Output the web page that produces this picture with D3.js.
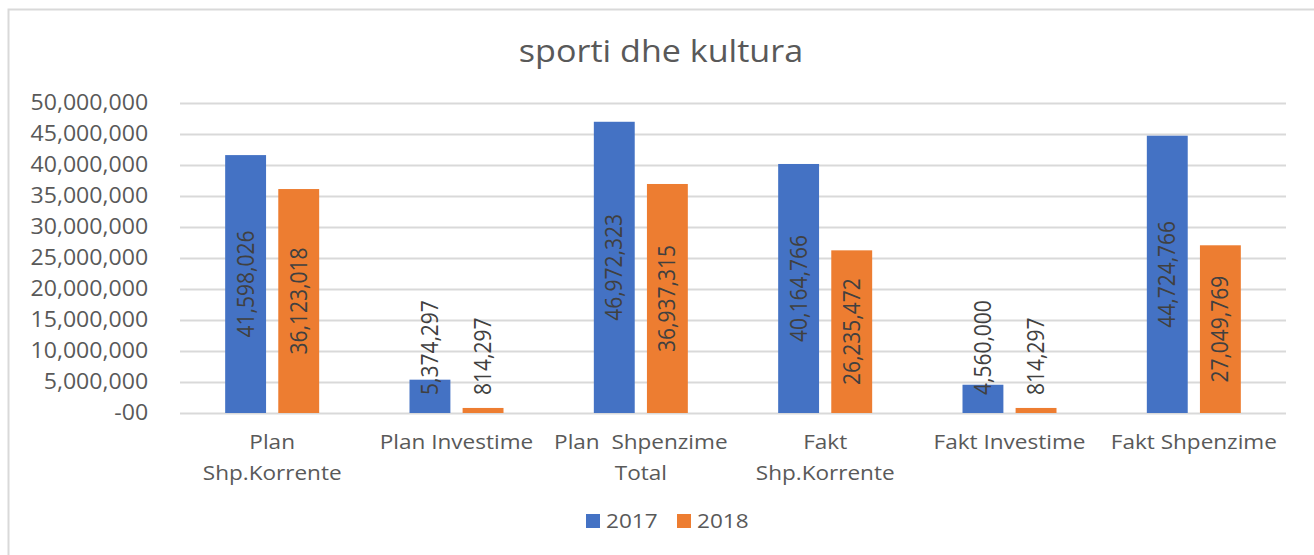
<!DOCTYPE html>
<html>
<head>
<style>
body{
    margin: 0;
    background: #fff;
}
svg text{
    font-family: "Open Sans", "Noto Sans", sans-serif;
}
</style>
</head>
<body>
<svg id="chart"></svg>

<script src="https://cdn.jsdelivr.net/npm/d3@7"></script>
<script>
var categories = [["Plan", "Shp.Korrente"], ["Plan Investime"], ["Plan  Shpenzime", "Total"],
                  ["Fakt", "Shp.Korrente"], ["Fakt Investime"], ["Fakt Shpenzime"]];
var years = ["2017", "2018"];
var values2017 = [41598026, 5374297, 46972323, 40164766, 4560000, 44724766];
var values2018 = [36123018, 814297, 36937315, 26235472, 814297, 27049769];
var yTicks = [0, 5000000, 10000000, 15000000, 20000000, 25000000, 30000000, 35000000, 40000000, 45000000, 50000000];
var colors = ["#4472c4", "#ed7d31"];

var width = 1314;
var height = 555;
var margin = {
    top: 103,
    bottom: 142,
    left: 180,
    right: 28
};
var sx = 1.1; // the reference text is a little wider than it is tall

var svg = d3.select('#chart')
    .attr('width', width)
    .attr('height', height);

// chart frame (runs off the right / bottom edge in the reference)
svg.append('rect')
    .attr('x', 8.5).attr('y', 9.5)
    .attr('width', 1330).attr('height', 600)
    .attr('fill', 'none')
    .attr('stroke', '#d9d9d9')
    .attr('stroke-width', 2);

svg.append('text')
    .attr('transform', 'translate(661,62) scale(' + sx + ',1)')
    .attr('text-anchor', 'middle')
    .attr('font-size', 31)
    .attr('fill', '#595959')
    .text('sporti dhe kultura');

var x0 = d3.scaleBand()
    .domain(d3.range(categories.length))
    .range([margin.left, width - margin.right]);
var x1 = d3.scaleBand()
    .domain(years)
    .range([x0.bandwidth() / 2 - 47, x0.bandwidth() / 2 + 47])
    .paddingInner(0.23);
var y = d3.scaleLinear()
    .domain([0, 50000000])
    .range([height - margin.bottom, margin.top]);

var fmt = d3.format(',');

// gridlines + y labels
var yAxis = d3.axisLeft(y)
    .tickValues(yTicks)
    .tickSize(-(width - margin.left - margin.right))
    .tickPadding(29)
    .tickFormat(function (d) { return d === 0 ? '-00' : fmt(d); });
var gy = svg.append('g')
    .attr('transform', 'translate(' + margin.left + ',0)')
    .call(yAxis);
gy.select('.domain').remove();
gy.selectAll('line').attr('stroke', '#d9d9d9').attr('stroke-width', 2);
gy.selectAll('text')
    .attr('font-size', 21)
    .attr('transform', 'scale(' + sx + ',1)')
    .attr('fill', '#595959');

var data = categories.map(function (c, i) {
    return {i: i, vals: [values2017[i], values2018[i]]};
});

var groups = svg.selectAll('.grp').data(data)
    .enter().append('g')
    .attr('class', 'grp')
    .attr('transform', function (d) { return 'translate(' + x0(d.i) + ',0)'; });

groups.selectAll('rect').data(function (d) {
        return d.vals.map(function (v, k) { return {year: years[k], v: v, k: k}; });
    })
    .enter().append('rect')
    .attr('x', function (d) { return x1(d.year); })
    .attr('y', function (d) { return y(d.v); })
    .attr('width', x1.bandwidth())
    .attr('height', function (d) { return y(0) - y(d.v); })
    .attr('fill', function (d) { return colors[d.k]; });

// data labels, rotated
groups.selectAll('.lbl').data(function (d) {
        return d.vals.map(function (v, k) { return {year: years[k], v: v, k: k}; });
    })
    .enter().append('text')
    .attr('class', 'lbl')
    .attr('font-size', 21)
    .attr('fill', '#404040')
    .attr('dy', '0.35em')
    .attr('transform', function (d) {
        var cx = x1(d.year) + x1.bandwidth() / 2;
        var h = y(0) - y(d.v);
        var cy = h > 120 ? (y(0) + y(d.v)) / 2 : y(0) - 18;
        return 'translate(' + cx + ',' + cy + ') scale(' + sx + ',1) rotate(-90)';
    })
    .attr('text-anchor', function (d) {
        return (y(0) - y(d.v)) > 120 ? 'middle' : 'start';
    })
    .text(function (d) { return fmt(d.v); });

// category labels
var cat = svg.selectAll('.cat').data(categories)
    .enter().append('text')
    .attr('class', 'cat')
    .attr('transform', function (d, i) {
        return 'translate(' + (x0(i) + x0.bandwidth() / 2) + ',449) scale(' + sx + ',1)';
    })
    .attr('text-anchor', 'middle')
    .attr('font-size', 20.5)
    .attr('fill', '#595959')
    .style('white-space', 'pre');
cat.selectAll('tspan').data(function (d) { return d; })
    .enter().append('tspan')
    .attr('x', 0)
    .attr('dy', function (d, j) { return j === 0 ? 0 : 31; })
    .text(function (d) { return d; });

// legend
var leg = svg.append('g').attr('transform', 'translate(586,514)');
var li = leg.selectAll('g').data(years)
    .enter().append('g')
    .attr('transform', function (d, i) { return 'translate(' + (i * 91) + ',0)'; });
li.append('rect')
    .attr('width', 14).attr('height', 14)
    .attr('fill', function (d, i) { return colors[i]; });
li.append('text')
    .attr('transform', 'translate(20,14) scale(' + sx + ',1)')
    .attr('font-size', 20.5)
    .attr('fill', '#595959')
    .text(function (d) { return d; });
</script>
</body>
</html>
